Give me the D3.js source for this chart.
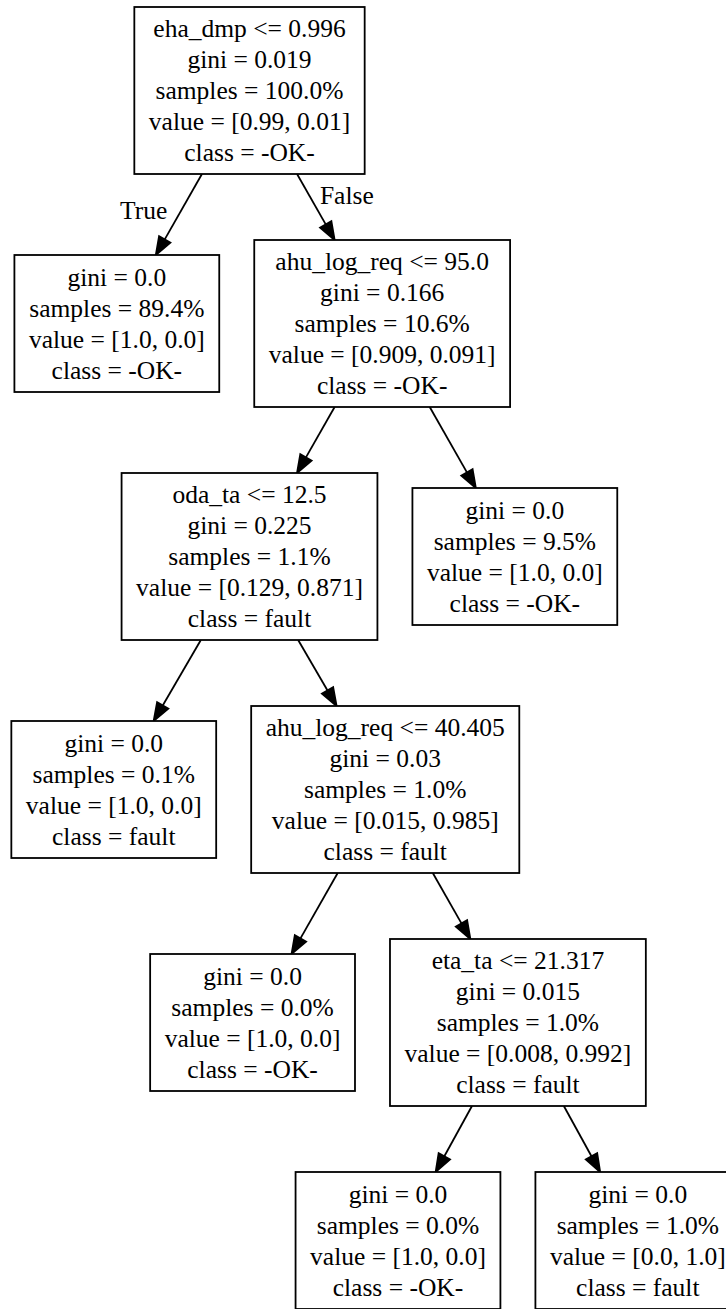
<!DOCTYPE html>
<html>
<head>
<meta charset="utf-8">
<script src="https://cdn.jsdelivr.net/npm/d3@7"></script>
<style>
  html, body { margin: 0; padding: 0; background: #fff; }
  svg { display: block; }
</style>
</head>
<body>
<svg id="tree" width="726" height="1309"></svg>
<script>
// Decision tree nodes in pre-order (sklearn export order)
const nodeIds    = [0, 1, 2, 3, 4, 5, 6, 7, 8, 9, 10];
const parentIds  = [null, 0, 0, 2, 3, 3, 5, 5, 7, 7, 2];
const features   = ["eha_dmp", null, "ahu_log_req", "oda_ta", null, "ahu_log_req", null, "eta_ta", null, null, null];
const thresholds = [0.996, null, 95.0, 12.5, null, 40.405, null, 21.317, null, null, null];
const ginis      = [0.019, 0.0, 0.166, 0.225, 0.0, 0.03, 0.0, 0.015, 0.0, 0.0, 0.0];
const samplesPct = [100.0, 89.4, 10.6, 1.1, 0.1, 1.0, 0.0, 1.0, 0.0, 1.0, 9.5];
const values     = [[0.99, 0.01], [1.0, 0.0], [0.909, 0.091], [0.129, 0.871], [1.0, 0.0],
                    [0.015, 0.985], [1.0, 0.0], [0.008, 0.992], [1.0, 0.0], [0.0, 1.0], [1.0, 0.0]];
const classes    = ["-OK-", "-OK-", "-OK-", "fault", "fault", "fault", "-OK-", "fault", "-OK-", "fault", "-OK-"];
const rootEdgeLabels = ["True", "False"];

// Styling / layout constants
const FONT = "'Liberation Serif', 'Times New Roman', Times, serif";
const FONT_SIZE = 25.5;
const LINE_H = 31;
const PAD_X = 14.5;
const SIB_GAP = 35;
const RANK_GAP = 66;
const ROOT_X = 249.5;
const ROOT_Y = 90.5;
const ARROW_LEN = 18;
const ARROW_HALF = 6.5;
const LABEL_DIST = 46;

// Python-style number formatting (1.0 -> "1.0", 0.03 -> "0.03")
const py = v => Number.isInteger(v) ? v.toFixed(1) : String(v);

const rows = nodeIds.map((id, i) => {
  const lines = [];
  if (features[i] !== null) lines.push(`${features[i]} <= ${py(thresholds[i])}`);
  lines.push(`gini = ${py(ginis[i])}`);
  lines.push(`samples = ${samplesPct[i].toFixed(1)}%`);
  lines.push(`value = [${py(values[i][0])}, ${py(values[i][1])}]`);
  lines.push(`class = ${classes[i]}`);
  return { id, parent: parentIds[i], lines };
});

const svg = d3.select("#tree");
svg.append("rect").attr("width", 726).attr("height", 1309).attr("fill", "#fff");

// Measure text widths to size each box
const probe = svg.append("text")
  .attr("font-family", FONT).attr("font-size", FONT_SIZE)
  .attr("visibility", "hidden");
rows.forEach(r => {
  r.w = d3.max(r.lines, s => { probe.text(s); return probe.node().getComputedTextLength(); }) + 2 * PAD_X;
  r.h = r.lines.length * 30 + 17;
});
probe.remove();

const root = d3.stratify().id(d => d.id).parentId(d => d.parent)(rows);

// Tidy tree layout: siblings separated by half-widths plus a constant gap
d3.tree()
  .nodeSize([1, 1])
  .separation((a, b) => a.data.w / 2 + b.data.w / 2 + SIB_GAP)(root);

// Rank centers: each rank is as tall as its tallest box, ranks separated by a fixed gap
const depthMax = d3.max(root.descendants(), n => n.depth);
const rankH = d3.range(depthMax + 1).map(d =>
  d3.max(root.descendants().filter(n => n.depth === d), n => n.data.h));
const rankY = [ROOT_Y];
for (let d = 1; d <= depthMax; d++) rankY.push(rankY[d - 1] + rankH[d - 1] / 2 + RANK_GAP + rankH[d] / 2);
const yScale = d3.scaleOrdinal().domain(d3.range(depthMax + 1)).range(rankY);

root.each(n => { n.cx = ROOT_X + n.x; n.cy = yScale(n.depth); });

const gEdges = svg.append("g");
const gNodes = svg.append("g");

// Edges: center-to-center line clipped to box edges, with filled arrowhead
root.links().forEach(l => {
  const p = l.source, c = l.target;
  const dx = c.cx - p.cx, dy = c.cy - p.cy;
  const sx = p.cx + dx * (p.data.h / 2) / dy, sy = p.cy + p.data.h / 2;
  const tx = p.cx + dx * (dy - c.data.h / 2) / dy, ty = c.cy - c.data.h / 2;
  const len = Math.hypot(tx - sx, ty - sy);
  const ux = (tx - sx) / len, uy = (ty - sy) / len;
  const bx = tx - ux * ARROW_LEN, by = ty - uy * ARROW_LEN;
  gEdges.append("line")
    .attr("x1", sx).attr("y1", sy).attr("x2", bx).attr("y2", by)
    .attr("stroke", "#000").attr("stroke-width", 1.8);
  gEdges.append("path")
    .attr("d", d3.line()([[tx, ty], [bx - uy * ARROW_HALF, by + ux * ARROW_HALF], [bx + uy * ARROW_HALF, by - ux * ARROW_HALF]]) + "Z")
    .attr("fill", "#000").attr("stroke", "#000").attr("stroke-width", 1.8);

  // True/False labels on the edges leaving the root
  if (p.depth === 0) {
    const k = p.children.indexOf(c);
    const theta = (k === 0 ? -45 : 45) * Math.PI / 180;
    const bxd = -ux, byd = -uy;
    const lx = tx + LABEL_DIST * (bxd * Math.cos(theta) - byd * Math.sin(theta));
    const ly = ty + LABEL_DIST * (bxd * Math.sin(theta) + byd * Math.cos(theta));
    gEdges.append("text")
      .attr("x", lx).attr("y", ly + 8.5)
      .attr("text-anchor", "middle")
      .attr("font-family", FONT).attr("font-size", FONT_SIZE)
      .attr("fill", "#000")
      .text(rootEdgeLabels[k]);
  }
});

// Node boxes with their text lines
root.descendants().forEach(n => {
  const g = gNodes.append("g");
  g.append("rect")
    .attr("x", n.cx - n.data.w / 2).attr("y", n.cy - n.data.h / 2)
    .attr("width", n.data.w).attr("height", n.data.h)
    .attr("fill", "#fff").attr("stroke", "#000").attr("stroke-width", 1.8);
  const m = n.data.lines.length;
  n.data.lines.forEach((s, i) => {
    g.append("text")
      .attr("x", n.cx)
      .attr("y", n.cy + (i - (m - 1) / 2) * LINE_H + 8.5)
      .attr("text-anchor", "middle")
      .attr("font-family", FONT).attr("font-size", FONT_SIZE)
      .attr("fill", "#000")
      .text(s);
  });
});
</script>
</body>
</html>
